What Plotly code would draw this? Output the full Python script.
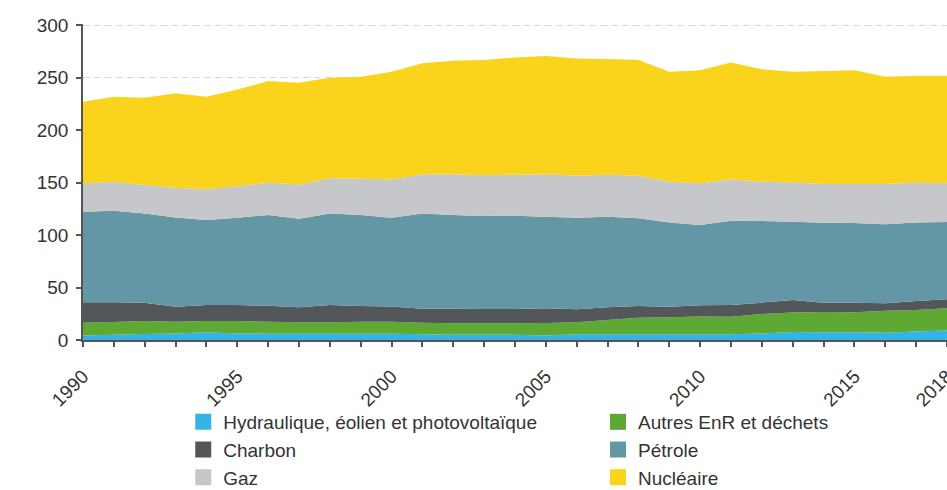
import plotly.graph_objects as go

years = list(range(1990, 2019))

hydraulique = [4.4, 5.1, 5.7, 6.3, 7.3, 6.3, 6.0, 6.0, 6.0, 6.0, 6.0, 5.4, 5.1, 5.1, 5.1,
               4.4, 5.4, 5.4, 5.4, 5.4, 5.4, 5.4, 6.3, 7.6, 7.3, 7.3, 7.0, 8.0, 9.0]
autres_enr = [12.1, 12.0, 12.4, 11.2, 10.8, 11.8, 11.3, 11.0, 11.0, 11.5, 11.3, 11.1, 10.8, 10.8, 10.8,
              11.8, 11.4, 13.6, 15.9, 16.2, 17.1, 16.8, 18.5, 18.7, 19.4, 19.2, 20.9, 20.6, 21.2]
charbon = [19.4, 18.8, 17.5, 14.2, 15.2, 15.2, 15.4, 14.1, 16.3, 14.9, 14.6, 13.3, 13.9, 13.6, 13.6,
           14.0, 12.4, 12.1, 11.1, 10.1, 10.5, 11.1, 10.8, 11.8, 8.9, 9.1, 7.0, 8.5, 8.5]
petrole = [86.3, 87.3, 85.0, 85.1, 81.0, 83.2, 86.3, 84.4, 87.3, 86.6, 84.6, 90.8, 89.2, 88.5, 88.8,
           87.3, 87.3, 86.4, 83.5, 80.3, 76.5, 80.4, 77.7, 74.6, 76.2, 75.9, 75.3, 74.9, 73.7]
gaz = [27.0, 27.3, 27.0, 28.2, 29.2, 30.0, 30.8, 32.5, 33.4, 34.7, 36.5, 37.4, 39.0, 39.0, 39.2,
       40.5, 40.0, 40.0, 40.6, 38.8, 39.7, 39.3, 37.5, 37.3, 36.8, 37.0, 38.4, 38.0, 36.8]
nucleaire = [77.8, 81.2, 83.2, 90.0, 88.2, 92.0, 96.9, 97.0, 95.8, 97.1, 102.6, 105.5, 108.0, 109.7, 111.7,
             112.5, 111.7, 110.1, 110.2, 104.8, 107.8, 111.4, 107.2, 105.6, 107.6, 108.5, 102.2, 101.7, 102.5]

x_ticks = [1990, 1995, 2000, 2005, 2010, 2015, 2018]

# (name, values, colour, legend column)
series = [
    ("Hydraulique, éolien et photovoltaïque", hydraulique, "#33b3e6", "legend"),
    ("Autres EnR et déchets", autres_enr, "#5ea934", "legend2"),
    ("Charbon", charbon, "#535759", "legend"),
    ("Pétrole", petrole, "#6497a6", "legend2"),
    ("Gaz", gaz, "#c6c7ca", "legend"),
    ("Nucléaire", nucleaire, "#fad41c", "legend2"),
]

FONT = "Liberation Sans, Arial, sans-serif"
TXT = "#333333"
AXIS = "#555555"

fig = go.Figure()
for name, vals, color, _ in series:
    fig.add_trace(go.Scatter(
        x=years, y=vals, name=name, stackgroup="one", mode="none",
        fillcolor=color, showlegend=False, hoverinfo="x+y+name",
    ))
# legend entries with square swatches, split in two columns
for name, vals, color, leg in series:
    fig.add_trace(go.Scatter(
        x=[None], y=[None], name=name, mode="markers", legend=leg,
        marker=dict(symbol="square", size=16, color=color),
    ))

legend_common = dict(
    orientation="v", xref="container", yref="container",
    xanchor="left", yanchor="top", y=0.1776,
    traceorder="normal", font=dict(family=FONT, size=19, color=TXT),
    bgcolor="rgba(0,0,0,0)", itemclick=False, itemdoubleclick=False,
)

fig.update_layout(
    width=947, height=490,
    margin=dict(l=83, r=0, t=24, b=150, autoexpand=False),
    plot_bgcolor="white", paper_bgcolor="white",
    font=dict(family=FONT, size=19, color=TXT),
    showlegend=True,
    legend=dict(x=0.1935, **legend_common),
    legend2=dict(x=0.6315, **legend_common),
)
fig.update_xaxes(
    range=[1990, 2018], tickvals=x_ticks, tickangle=-45,
    showgrid=False, zeroline=False,
    showline=True, linecolor=AXIS, linewidth=1.5,
    ticks="outside", ticklen=5, tickcolor=AXIS, tickwidth=1.5,
    minor=dict(dtick=1, tick0=1990, ticks="outside", ticklen=5, tickcolor=AXIS, tickwidth=1.5, showgrid=False),
    ticklabelstandoff=11, ticklabeloverflow="allow", automargin=False,
)
fig.update_yaxes(
    range=[0, 301], tickvals=[0, 50, 100, 150, 200, 250, 300],
    showgrid=True, gridcolor="#d9d9d9", gridwidth=1, griddash="7px,4px",
    zeroline=False,
    showline=True, linecolor=AXIS, linewidth=1.5,
    ticks="outside", ticklen=5, tickcolor=AXIS, tickwidth=1.5,
    ticklabelstandoff=4, automargin=False,
)

fig.write_html("out.html", config={"displayModeBar": False},
               post_script="document.body.style.margin='0';")
